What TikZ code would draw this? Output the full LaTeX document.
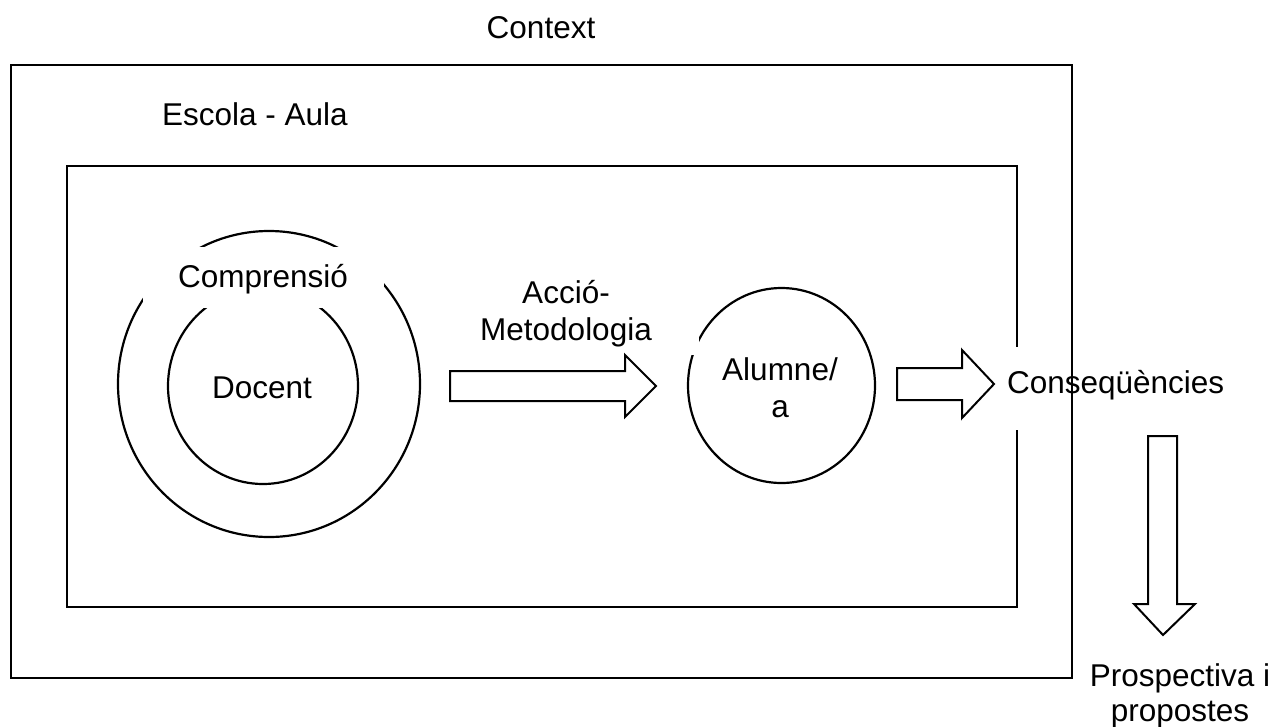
\documentclass[tikz,border=0pt]{standalone}
\usepackage{fontspec}
\setmainfont{Liberation Sans}
\usetikzlibrary{shapes.geometric}
\begin{document}
\begin{tikzpicture}[x=1pt, y=-1pt,
  lbl/.style={font=\fontsize{31.5}{37}\selectfont, inner sep=0pt, outer sep=0pt},
  frame/.style={draw, line width=2.4pt, inner sep=0pt, outer sep=0pt},
  ring/.style={draw, ellipse, line width=2.2pt, inner sep=0pt, outer sep=0pt},
  blockarrow/.style={draw, line width=2pt, line join=miter, fill=white},
  blank/.style={fill=white}]
\useasboundingbox (0,0) rectangle (1273,726);

% inner frame: school / classroom
\node[frame, minimum width=950pt, minimum height=441pt] (aula) at (542,386.5) {};

% teacher and understanding rings
\node[ring, minimum width=302pt, minimum height=306pt] (comprensioring) at (269,384) {};
\node[ring, minimum width=190pt, minimum height=196pt] (docentring) at (263,386) {};

% pupil
\node[ring, minimum width=187pt, minimum height=195pt] (alumnering) at (781.5,385.5) {};

% white backgrounds behind the labels
\fill[blank] (143,247) rectangle (384,308);
\fill[blank] (433,265) rectangle (699,355);
\fill[blank] (1000,347) rectangle (1232,430);

% labels
\node[lbl, anchor=base] (comprensio) at (263,287) {Comprensió};
\node[lbl, anchor=base] (docent) at (262,398) {Docent};
\node[lbl, align=center] (accio) at (566,313.5) {Acció-\\Metodologia};
\node[lbl, align=center] (alumne) at (780,387.5) {Alumne/\\a};
\node[lbl, anchor=base west] (consequencies) at (1007,393) {Conseqüències};

% block arrows
\draw[blockarrow] (450,371) -- (625,371) -- (625,355) -- (656,386) -- (625,417)
  -- (625,401) -- (450,401) -- cycle;
\draw[blockarrow] (897,368) -- (962,368) -- (962,350) -- (994,384) -- (962,418)
  -- (962,400) -- (897,400) -- cycle;
\draw[blockarrow] (1148,436) -- (1177,436) -- (1177,604) -- (1195,604) -- (1163,635)
  -- (1134,604) -- (1148,604) -- cycle;

% outer frame: context
\node[frame, minimum width=1061pt, minimum height=613pt] (context) at (541.5,371.5) {};

\node[lbl, anchor=base] (contextlbl) at (541,38) {Context};
\node[lbl, anchor=base] (escola) at (255,125) {Escola - Aula};
\node[lbl, align=center, font=\fontsize{31.5}{35}\selectfont] (prospectiva) at (1180,696) {Prospectiva i\\propostes};
\end{tikzpicture}
\end{document}
